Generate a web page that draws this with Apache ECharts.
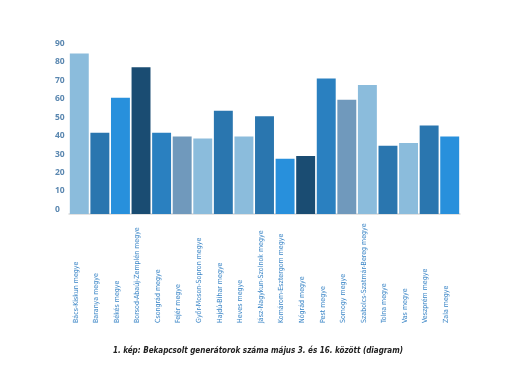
<!DOCTYPE html>
<html>
<head>
<meta charset="utf-8">
<script src="https://cdn.jsdelivr.net/npm/echarts@6/dist/echarts.min.js"></script>
<style>html,body{margin:0;padding:0;background:#fff}#c{width:516px;height:375px}</style>
</head>
<body>
<div id="c"></div>
<script>
const categories = ["Bács-Kiskun megye","Baranya megye","Békés megye","Borsod-Abaúj-Zemplén megye","Csongrád megye","Fejér megye","Győr-Moson-Sopron megye","Hajdú-Bihar megye","Heves megye","Jász-Nagykun-Szolnok megye","Komárom-Esztergom megye","Nógrád megye","Pest megye","Somogy megye","Szabolcs-Szatmár-Bereg megye","Tolna megye","Vas megye","Veszprém megye","Zala megye"];
const values = [87, 44, 63, 79.5, 44, 42, 41, 56, 42, 53, 30, 31.5, 73.5, 62, 70, 37, 38.5, 48, 42];
const barColors = ["#8bbcdc","#2a76af","#2890dc","#1a4c72","#2a80c0","#7099bc","#8bbcdc","#2a76af","#8bbcdc","#2a76af","#2890dc","#1a4c72","#2a80c0","#7099bc","#8bbcdc","#2a76af","#8bbcdc","#2a76af","#2890dc"];
const titleText = "1. kép: Bekapcsolt generátorok száma május 3. és 16. között (diagram)";

const chart = echarts.init(document.getElementById('c'), null, {renderer: 'canvas'});
chart.setOption({
  animation: false,
  backgroundColor: '#ffffff',
  title: {
    text: titleText,
    left: 'center',
    top: 342,
    textStyle: {
      fontFamily: '"DejaVu Sans Condensed", "DejaVu Sans", sans-serif',
      fontSize: 8,
      fontWeight: 'bold',
      fontStyle: 'italic',
      color: '#222222'
    }
  },
  grid: {left: 69, right: 56, top: 48, bottom: 161, containLabel: false},
  xAxis: {
    type: 'category',
    data: categories,
    axisLine: {show: true, lineStyle: {color: '#d9d9d9', width: 1.5}},
    axisTick: {show: false},
    axisLabel: {
      interval: 0,
      rotate: 90,
      align: 'left',
      verticalAlign: 'bottom',
      margin: 109,
      fontFamily: '"DejaVu Sans Condensed", "DejaVu Sans", sans-serif',
      fontSize: 7,
      color: '#3a85c6'
    }
  },
  yAxis: {
    type: 'value',
    min: 0,
    max: 90,
    interval: 10,
    splitLine: {show: false},
    axisLine: {show: false},
    axisTick: {show: false},
    axisLabel: {
      align: 'left',
      verticalAlign: 'bottom',
      margin: 14,
      fontFamily: '"Open Sans", sans-serif',
      fontWeight: 'bold',
      fontSize: 8.5,
      color: '#5a87b0'
    }
  },
  series: [{
    type: 'bar',
    data: values.map((v, i) => ({value: v, itemStyle: {color: barColors[i]}})),
    barCategoryGap: '8%'
  }]
});
</script>
</body>
</html>
